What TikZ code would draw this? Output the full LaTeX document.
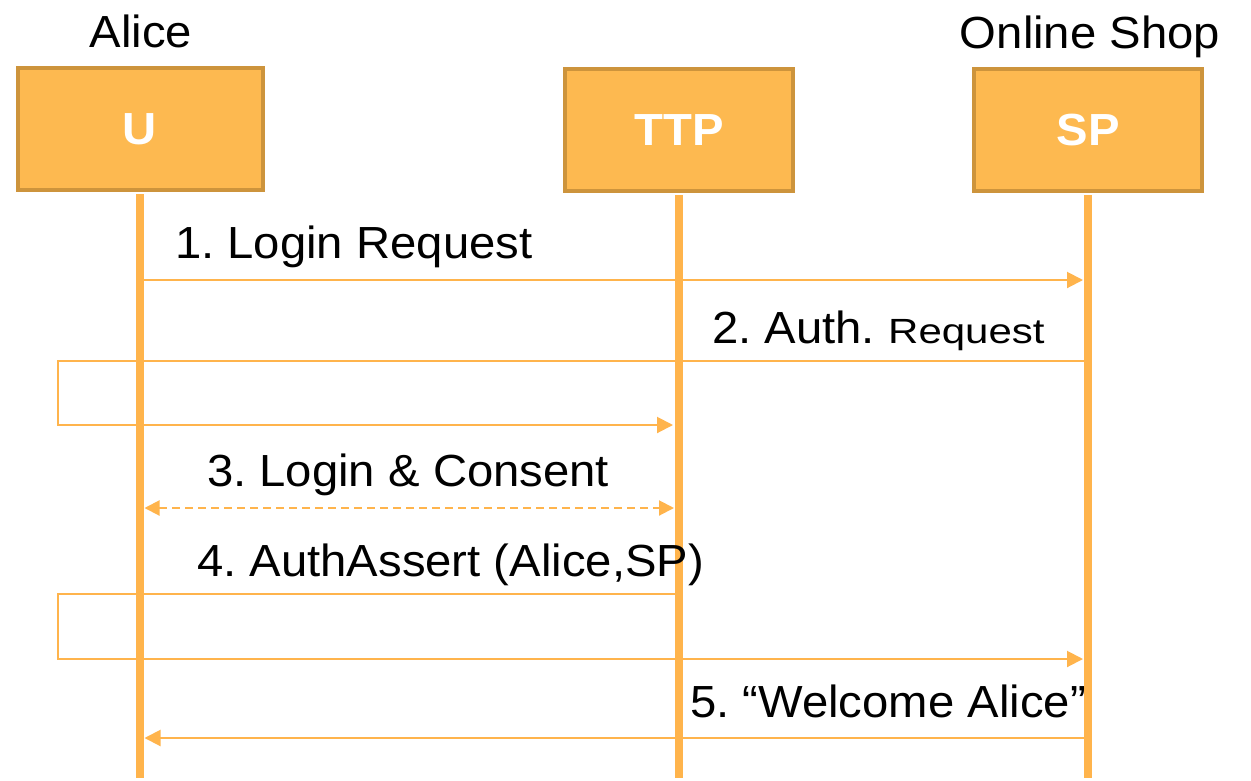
\documentclass[tikz,border=0pt]{standalone}
\usepackage{fontspec}
\setmainfont{Liberation Sans}[FakeStretch=1.05]
\newfontfamily\reqfont{Liberation Sans}[FakeStretch=1.2]
\usetikzlibrary{arrows.meta}
\definecolor{boxfill}{HTML}{FDB950}
\definecolor{boxedge}{HTML}{CD943C}
\definecolor{wire}{HTML}{FFB44C}
\frenchspacing

\begin{document}
\begin{tikzpicture}[x=1pt,y=-1pt,
  actor/.style={draw=boxedge, fill=boxfill, line width=4pt, minimum height=122pt,
    text=white, font=\fontsize{45}{50}\selectfont\bfseries, inner sep=0pt},
  life/.style={draw=wire, line width=7.5pt},
  msg/.style={draw=wire, line width=2pt},
  tip/.style={-{Triangle[length=16pt,width=16pt]}},
  lbl/.style={font=\fontsize{45}{50}\selectfont, inner sep=0pt, text=black},
]
% canvas
\fill[white] (0,0) rectangle (1251,780);
\useasboundingbox (0,0) rectangle (1251,780);

% participants
\node[actor, minimum width=245pt] (U)   at (140,129)  {U};
\node[actor, minimum width=228pt] (TTP) at (679,130)  {TTP};
\node[actor, minimum width=228pt] (SP)  at (1088,130) {SP};

\node[lbl, anchor=base] (alice) at (141,47)  {Alice};
\node[lbl, anchor=base] (shop)  at (1090,48) {Online Shop};

% loop corners of the redirected messages
\coordinate (r2a) at (58,361);
\coordinate (r2b) at (58,425);
\coordinate (r4a) at (58,594);
\coordinate (r4b) at (58,659);

% messages
\draw[msg, tip, shorten >=5pt] (U.south |- 0,280) -- (SP.south |- 0,280);
\draw[msg, tip, shorten >=6pt] (SP.south |- 0,361) -- (r2a) -- (r2b) -- (TTP.south |- 0,425);
\draw[msg, dash pattern=on 8pt off 5pt,
      {Triangle[length=15pt,width=15pt]}-{Triangle[length=15pt,width=15pt]},
      shorten <=4.5pt, shorten >=5pt] (U.south |- 0,508) -- (TTP.south |- 0,508);
\draw[msg, tip, shorten >=5pt] (TTP.south |- 0,594) -- (r4a) -- (r4b) -- (SP.south |- 0,659);
\draw[msg, tip, shorten >=4.5pt] (SP.south |- 0,738) -- (U.south |- 0,738);

% lifelines
\coordinate (Uend)   at (U.south |- 0,778);
\coordinate (TTPend) at (TTP.south |- 0,778);
\coordinate (SPend)  at (SP.south |- 0,778);
\draw[life] ([yshift=-2pt]U.south)   -- (Uend);
\draw[life] ([yshift=-2pt]TTP.south) -- (TTPend);
\draw[life] ([yshift=-2pt]SP.south)  -- (SPend);

% message labels
\node[lbl, anchor=base west] (t1) at (175,258) {1. Login Request};
\node[lbl, anchor=base west] (t2) at (712,343) {2. Auth. {\reqfont\fontsize{35}{40}\selectfont Request}};
\node[lbl, anchor=base west] (t3) at (207,486) {3. Login \& Consent};
\node[lbl, anchor=base west] (t4) at (197,576) {4. AuthAssert (Alice,SP)};
\node[lbl, anchor=base west] (t5) at (690,717) {5. “Welcome Alice”};
\end{tikzpicture}
\end{document}
